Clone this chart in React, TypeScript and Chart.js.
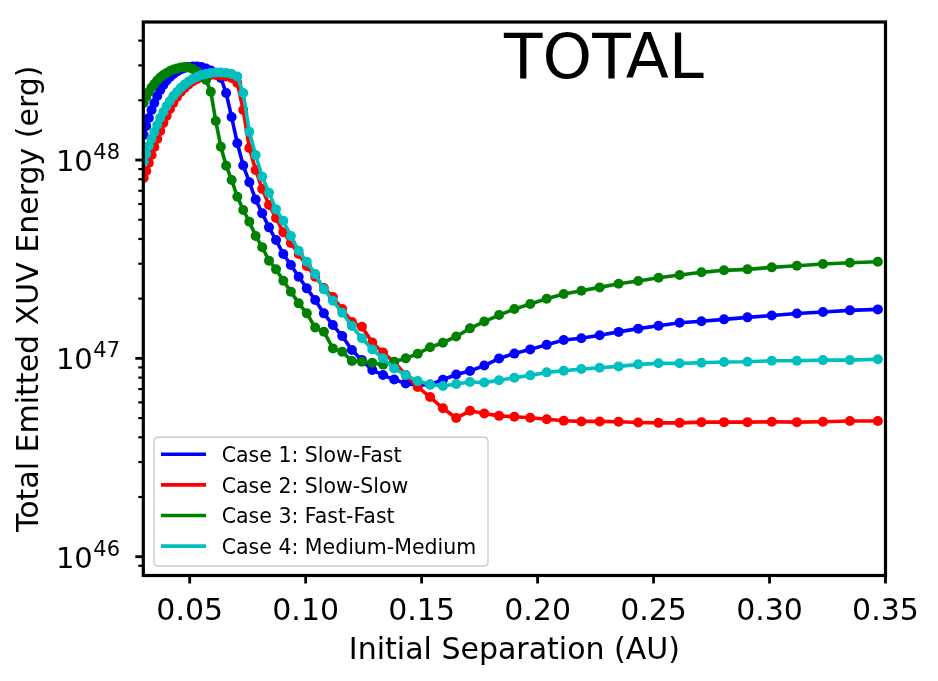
import React, { useEffect, useRef } from "react";
import { Chart, registerables } from "chart.js";

Chart.register(...registerables);

// Initial separation of the pair (AU)
const separationAU = [
  0.03017, 0.03126, 0.03239, 0.03355, 0.03476, 0.03601, 0.03731, 0.03865, 0.04005, 0.04149,
  0.04298, 0.04453, 0.04614, 0.0478, 0.04952, 0.0513, 0.05315, 0.05507, 0.05705, 0.0591,
  0.06123, 0.06344, 0.06572, 0.06809, 0.07054, 0.07308, 0.07572, 0.07844, 0.08127, 0.08419,
  0.08723, 0.09037, 0.09362, 0.097, 0.10049, 0.10411, 0.10786, 0.11174, 0.11577, 0.11994,
  0.12426, 0.12873, 0.13337, 0.13817, 0.14315, 0.14831, 0.15365, 0.15918, 0.16491, 0.17085,
  0.17701, 0.18338, 0.18999, 0.19683, 0.20392, 0.21126, 0.21887, 0.22676, 0.23492, 0.24338,
  0.25215, 0.26123, 0.27064, 0.28039, 0.29049, 0.30095, 0.31179, 0.32302, 0.33465, 0.3467,
];

// Total emitted XUV energy (erg)
const case1SlowFast = [
  1.337e48, 1.484e48, 1.628e48, 1.787e48, 1.939e48, 2.102e48, 2.254e48, 2.389e48, 2.518e48, 2.622e48,
  2.715e48, 2.795e48, 2.86e48, 2.911e48, 2.944e48, 2.962e48, 2.962e48, 2.944e48, 2.894e48, 2.827e48,
  2.746e48, 2.592e48, 2.177e48, 1.647e48, 1.214e48, 9.38e47, 7.73e47, 6.32e47, 5.385e47, 4.577e47,
  3.95e47, 3.357e47, 2.954e47, 2.579e47, 2.254e47, 1.968e47, 1.686e47, 1.472e47, 1.296e47, 1.101e47,
  9.8e46, 8.73e46, 8.24e46, 7.82e46, 7.48e46, 7.33e46, 7.39e46, 7.8e46, 8.29e46, 8.63e46,
  9.2e46, 9.98e46, 1.057e47, 1.11e47, 1.17e47, 1.237e47, 1.262e47, 1.308e47, 1.36e47, 1.412e47,
  1.459e47, 1.512e47, 1.538e47, 1.573e47, 1.61e47, 1.646e47, 1.682e47, 1.712e47, 1.746e47, 1.766e47,
];

const case2SlowSlow = [
  8.11e47, 8.8e47, 9.66e47, 1.06e48, 1.163e48, 1.276e48, 1.4e48, 1.537e48, 1.667e48, 1.808e48,
  1.939e48, 2.078e48, 2.203e48, 2.307e48, 2.403e48, 2.488e48, 2.561e48, 2.622e48, 2.668e48, 2.683e48,
  2.683e48, 2.668e48, 2.637e48, 2.591e48, 2.445e48, 1.787e48, 1.15e48, 8.9e47, 7.14e47, 5.93e47,
  5.1e47, 4.33e47, 3.814e47, 3.357e47, 2.92e47, 2.579e47, 2.262e47, 2.038e47, 1.772e47, 1.524e47,
  1.443e47, 1.202e47, 1.07e47, 9.58e46, 8.24e46, 7.17e46, 6.38e46, 5.6e46, 5.0e46, 5.44e46,
  5.27e46, 5.13e46, 5.08e46, 5.02e46, 4.93e46, 4.85e46, 4.81e46, 4.81e46, 4.79e46, 4.75e46,
  4.73e46, 4.73e46, 4.77e46, 4.77e46, 4.77e46, 4.79e46, 4.77e46, 4.79e46, 4.83e46, 4.83e46,
];

const case3FastFast = [
  1.939e48, 2.078e48, 2.203e48, 2.321e48, 2.416e48, 2.518e48, 2.606e48, 2.683e48, 2.746e48, 2.811e48,
  2.86e48, 2.894e48, 2.928e48, 2.944e48, 2.928e48, 2.877e48, 2.795e48, 2.699e48, 2.532e48, 2.211e48,
  1.573e48, 1.167e48, 9.36e47, 7.93e47, 6.53e47, 5.6e47, 4.89e47, 4.14e47, 3.63e47, 3.11e47,
  2.81e47, 2.46e47, 2.17e47, 1.894e47, 1.686e47, 1.43e47, 1.362e47, 1.123e47, 1.08e47, 9.69e46,
  9.61e46, 9.5e46, 9.3e46, 9.61e46, 1.0e47, 1.055e47, 1.138e47, 1.199e47, 1.29e47, 1.417e47,
  1.533e47, 1.653e47, 1.772e47, 1.878e47, 1.998e47, 2.11e47, 2.193e47, 2.28e47, 2.378e47, 2.454e47,
  2.55e47, 2.631e47, 2.715e47, 2.779e47, 2.811e47, 2.877e47, 2.931e47, 2.989e47, 3.035e47, 3.07e47,
];

const case4MediumMedium = [
  9.77e47, 1.072e48, 1.177e48, 1.276e48, 1.384e48, 1.501e48, 1.628e48, 1.746e48, 1.872e48, 1.984e48,
  2.102e48, 2.203e48, 2.307e48, 2.403e48, 2.488e48, 2.561e48, 2.622e48, 2.683e48, 2.715e48, 2.746e48,
  2.762e48, 2.762e48, 2.746e48, 2.715e48, 2.637e48, 2.177e48, 1.389e48, 1.06e48, 8.24e47, 6.84e47,
  5.64e47, 4.94e47, 4.137e47, 3.487e47, 3.07e47, 2.661e47, 2.228e47, 1.952e47, 1.698e47, 1.455e47,
  1.262e47, 1.11e47, 1.0e47, 8.9e46, 8.24e46, 7.68e46, 7.39e46, 7.25e46, 7.42e46, 7.6e46,
  7.55e46, 7.75e46, 7.98e46, 8.21e46, 8.5e46, 8.66e46, 8.83e46, 8.97e46, 9.11e46, 9.33e46,
  9.44e46, 9.44e46, 9.5e46, 9.58e46, 9.61e46, 9.72e46, 9.72e46, 9.8e46, 9.8e46, 9.89e46,
];

const seriesLabels = [
  "Case 1: Slow-Fast",
  "Case 2: Slow-Slow",
  "Case 3: Fast-Fast",
  "Case 4: Medium-Medium",
];
const seriesColors = ["#0000ff", "#ff0000", "#008000", "#00bfbf"];

const xTickValues = [0.05, 0.1, 0.15, 0.2, 0.25, 0.3, 0.35];
const xTickLabels = ["0.05", "0.10", "0.15", "0.20", "0.25", "0.30", "0.35"];
const yDecades = [46, 47, 48];

const X_MIN = 0.03;
const X_MAX = 0.35;
const Y_MIN = 8.04e45;
const Y_MAX = 4.965e48;

const FONT = "'DejaVu Sans', 'Liberation Sans', sans-serif";

const frameAndLabels = {
  id: "frameAndLabels",
  afterDatasetsDraw(chart: any) {
    const { ctx, chartArea: a, scales } = chart;
    const xs = scales.x;
    const ys = scales.y;
    ctx.save();

    // tick marks (outward)
    ctx.strokeStyle = "#000";
    ctx.lineCap = "butt";
    ctx.lineWidth = 2.8;
    xTickValues.forEach((v) => {
      const px = xs.getPixelForValue(v);
      ctx.beginPath();
      ctx.moveTo(px, a.bottom);
      ctx.lineTo(px, a.bottom + 8);
      ctx.stroke();
    });
    yDecades.forEach((d) => {
      const py = ys.getPixelForValue(Math.pow(10, d));
      ctx.beginPath();
      ctx.moveTo(a.left, py);
      ctx.lineTo(a.left - 8, py);
      ctx.stroke();
    });
    ctx.lineWidth = 2.2;
    for (let d = 45; d <= 48; d++) {
      for (let m = 2; m <= 9; m++) {
        const v = m * Math.pow(10, d);
        if (v < Y_MIN || v > Y_MAX) continue;
        const py = ys.getPixelForValue(v);
        ctx.beginPath();
        ctx.moveTo(a.left, py);
        ctx.lineTo(a.left - 5, py);
        ctx.stroke();
      }
    }

    // frame
    ctx.lineWidth = 3.2;
    ctx.strokeRect(a.left, a.top, a.right - a.left, a.bottom - a.top);

    // x tick labels
    ctx.fillStyle = "#000";
    ctx.font = `30px ${FONT}`;
    ctx.textAlign = "center";
    ctx.textBaseline = "alphabetic";
    xTickValues.forEach((v, i) => {
      ctx.fillText(xTickLabels[i], xs.getPixelForValue(v), 620);
    });

    // y tick labels as 10^n
    yDecades.forEach((d) => {
      const py = ys.getPixelForValue(Math.pow(10, d));
      const right = 120;
      ctx.textAlign = "right";
      ctx.font = `21px ${FONT}`;
      const exp = String(d);
      const ew = ctx.measureText(exp).width;
      ctx.fillText(exp, right, py - 1);
      ctx.font = `29px ${FONT}`;
      ctx.fillText("10", right - ew - 0.5, py + 11);
    });

    // axis titles
    ctx.font = `30px ${FONT}`;
    ctx.textAlign = "center";
    ctx.fillText("Initial Separation (AU)", (a.left + a.right) / 2, 659);
    ctx.save();
    ctx.translate(38, (a.top + a.bottom) / 2);
    ctx.rotate(-Math.PI / 2);
    ctx.fillText("Total Emitted XUV Energy (erg)", 0, 0);
    ctx.restore();

    // panel title
    ctx.font = `63px ${FONT}`;
    ctx.textAlign = "center";
    ctx.fillText("TOTAL", 604, 78);

    ctx.restore();
  },
  afterDraw(chart: any) {
    const { ctx } = chart;
    ctx.save();
    const bx = 154;
    const by = 437.3;
    const bw = 334;
    const bh = 128.7;
    const r = 4;
    ctx.beginPath();
    ctx.moveTo(bx + r, by);
    ctx.lineTo(bx + bw - r, by);
    ctx.quadraticCurveTo(bx + bw, by, bx + bw, by + r);
    ctx.lineTo(bx + bw, by + bh - r);
    ctx.quadraticCurveTo(bx + bw, by + bh, bx + bw - r, by + bh);
    ctx.lineTo(bx + r, by + bh);
    ctx.quadraticCurveTo(bx, by + bh, bx, by + bh - r);
    ctx.lineTo(bx, by + r);
    ctx.quadraticCurveTo(bx, by, bx + r, by);
    ctx.closePath();
    ctx.fillStyle = "rgba(255,255,255,0.8)";
    ctx.fill();
    ctx.strokeStyle = "#cccccc";
    ctx.lineWidth = 1.4;
    ctx.stroke();

    ctx.font = `20.5px ${FONT}`;
    ctx.textAlign = "left";
    ctx.textBaseline = "alphabetic";
    seriesLabels.forEach((label, i) => {
      const ry = 454.3 + i * 30.6;
      ctx.strokeStyle = seriesColors[i];
      ctx.lineWidth = 3.6;
      ctx.beginPath();
      ctx.moveTo(161, ry);
      ctx.lineTo(206, ry);
      ctx.stroke();
      ctx.fillStyle = "#000";
      ctx.fillText(label, 221.7, ry + 7.7);
    });
    ctx.restore();
  },
};

export default function App() {
  const canvasRef = useRef<HTMLCanvasElement | null>(null);

  useEffect(() => {
    document.body.style.margin = "0";
    const canvas = canvasRef.current;
    if (!canvas) return;
    const allSeries = [case1SlowFast, case2SlowSlow, case3FastFast, case4MediumMedium];
    const datasets = allSeries.map((vals, i) => ({
      label: seriesLabels[i],
      data: separationAU.map((x, j) => ({ x, y: vals[j] })),
      borderColor: seriesColors[i],
      backgroundColor: seriesColors[i],
      pointBackgroundColor: seriesColors[i],
      pointBorderWidth: 0,
      pointRadius: 5,
      borderWidth: 3.6,
      tension: 0,
      fill: false,
      // later cases are drawn on top
      order: allSeries.length - i,
    }));

    const chart = new Chart(canvas, {
      type: "line",
      data: { datasets },
      options: {
        responsive: false,
        animation: false,
        events: [],
        layout: { padding: { left: 143.3, right: 52.5, top: 22, bottom: 105.5 } },
        plugins: { legend: { display: false }, tooltip: { enabled: false } },
        scales: {
          x: { type: "linear", min: X_MIN, max: X_MAX, display: false },
          y: { type: "logarithmic", min: Y_MIN, max: Y_MAX, display: false },
        },
      },
      plugins: [frameAndLabels],
    });
    return () => chart.destroy();
  }, []);

  return (
    <div style={{ position: "absolute", left: 0, top: 0, width: 938, height: 681, background: "#fff" }}>
      <canvas ref={canvasRef} width={938} height={681} style={{ display: "block" }} />
    </div>
  );
}
